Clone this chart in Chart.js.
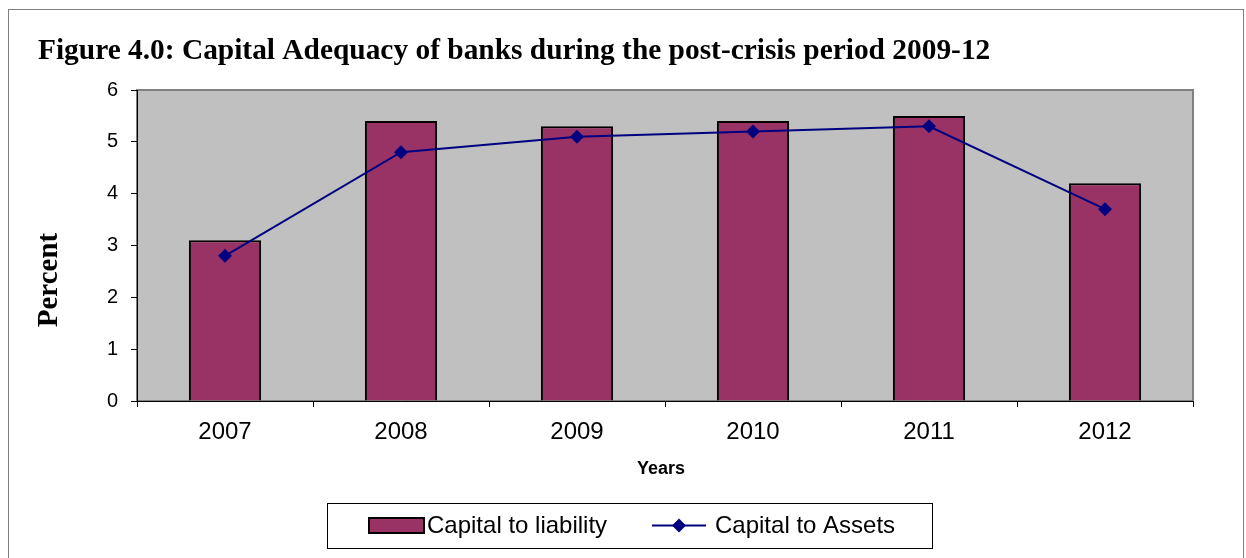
<!DOCTYPE html>
<html>
<head>
<meta charset="utf-8">
<script src="https://cdn.jsdelivr.net/npm/chart.js@4/dist/chart.umd.min.js"></script>
<style>
html,body{margin:0;padding:0;background:#fff;}
canvas{display:block;}
</style>
</head>
<body>
<canvas id="c" width="1246" height="558"></canvas>
<script>
const years = ['2007','2008','2009','2010','2011','2012'];
const capitalToLiability = [3.1, 5.4, 5.3, 5.4, 5.5, 4.2];
const capitalToAssets = [2.8, 4.8, 5.1, 5.2, 5.3, 3.7];
const yTicks = [0,1,2,3,4,5,6];
const titleText = 'Figure 4.0: Capital Adequacy of banks during the post-crisis period 2009-12';
const yTitle = 'Percent';
const xTitle = 'Years';
const seriesNames = ['Capital to liability', 'Capital to Assets'];

const BAR = '#993366', LINE = '#000080';

const decor = {
  id: 'decor',
  beforeDraw(chart) {
    const ctx = chart.ctx, a = chart.chartArea;
    ctx.save();
    ctx.fillStyle = '#fff';
    ctx.fillRect(0, 0, chart.width, chart.height);
    ctx.strokeStyle = '#808080';
    ctx.lineWidth = 1;
    ctx.strokeRect(8.5, 9.5, 1235, 560);
    ctx.fillStyle = '#c0c0c0';
    ctx.fillRect(a.left, a.top, a.right - a.left, a.bottom - a.top);
    ctx.strokeStyle = '#808080';
    ctx.lineWidth = 2;
    ctx.strokeRect(a.left, a.top, a.right - a.left, a.bottom - a.top);
    ctx.restore();
  },
  afterDraw(chart) {
    const ctx = chart.ctx;
    ctx.save();
    ctx.fillStyle = '#000';
    ctx.font = 'bold 29.4px "Liberation Serif", "Times New Roman", serif';
    ctx.textAlign = 'left';
    ctx.textBaseline = 'alphabetic';
    ctx.fillText(titleText, 38, 59);
    ctx.save();
    ctx.translate(57, 280);
    ctx.rotate(-Math.PI / 2);
    ctx.textAlign = 'center';
    ctx.textBaseline = 'alphabetic';
    ctx.font = 'bold 29px "Liberation Serif", "Times New Roman", serif';
    ctx.fillText(yTitle, 0, 0);
    ctx.restore();
    ctx.font = 'bold 18px "Liberation Sans", Arial, sans-serif';
    ctx.textAlign = 'center';
    ctx.textBaseline = 'middle';
    ctx.fillText(xTitle, 661, 469);
    ctx.strokeStyle = '#000';
    ctx.lineWidth = 1;
    ctx.strokeRect(327.5, 503.5, 605, 45);
    const cy = 525.5;
    ctx.fillStyle = BAR;
    ctx.fillRect(369, 518, 55, 15);
    ctx.lineWidth = 2;
    ctx.strokeRect(369, 518, 55, 15);
    ctx.fillStyle = '#000';
    ctx.font = '24px "Liberation Sans", Arial, sans-serif';
    ctx.textAlign = 'left';
    ctx.textBaseline = 'middle';
    ctx.fillText(seriesNames[0], 427, cy + 1);
    ctx.strokeStyle = LINE;
    ctx.lineWidth = 2;
    ctx.beginPath();
    ctx.moveTo(652, cy); ctx.lineTo(706, cy);
    ctx.stroke();
    ctx.fillStyle = LINE;
    ctx.beginPath();
    ctx.moveTo(679, cy - 7); ctx.lineTo(686, cy); ctx.lineTo(679, cy + 7); ctx.lineTo(672, cy);
    ctx.closePath(); ctx.fill();
    ctx.fillStyle = '#000';
    ctx.fillText(seriesNames[1], 715, cy + 1);
    ctx.restore();
  }
};

new Chart(document.getElementById('c'), {
  type: 'bar',
  data: {
    labels: years,
    datasets: [
      {
        type: 'line',
        label: seriesNames[1],
        data: capitalToAssets,
        borderColor: LINE,
        backgroundColor: LINE,
        borderWidth: 2,
        pointStyle: 'rectRot',
        pointRadius: 7,
        pointBorderWidth: 0,
        pointBackgroundColor: LINE,
        tension: 0,
        order: 0
      },
      {
        type: 'bar',
        label: seriesNames[0],
        data: capitalToLiability,
        backgroundColor: BAR,
        borderColor: '#000',
        borderWidth: 2,
        barPercentage: 0.41,
        categoryPercentage: 1,
        order: 1
      }
    ]
  },
  options: {
    responsive: false,
    animation: false,
    layout: { padding: { left: 30, right: 53, top: 90, bottom: 117 } },
    plugins: { legend: { display: false }, tooltip: { enabled: false }, title: { display: false } },
    scales: {
      x: {
        grid: { display: true, drawOnChartArea: false, drawTicks: true, tickLength: 6, color: '#000', offset: true },
        border: { color: '#000', width: 1 },
        ticks: { color: '#000', font: { size: 24, family: '"Liberation Sans", Arial, sans-serif' }, padding: 11 },
        afterFit(s) { s.height = 40; }
      },
      y: {
        min: 0, max: 6,
        afterBuildTicks(s) { s.ticks = yTicks.map(v => ({ value: v })); },
        grid: { display: true, drawOnChartArea: false, drawTicks: true, tickLength: 6, color: '#000' },
        border: { color: '#000', width: 1 },
        ticks: { color: '#000', font: { size: 20, family: '"Liberation Sans", Arial, sans-serif' }, padding: 13 },
        afterFit(s) { s.width = 107; }
      }
    }
  },
  plugins: [decor]
});
</script>
</body>
</html>
